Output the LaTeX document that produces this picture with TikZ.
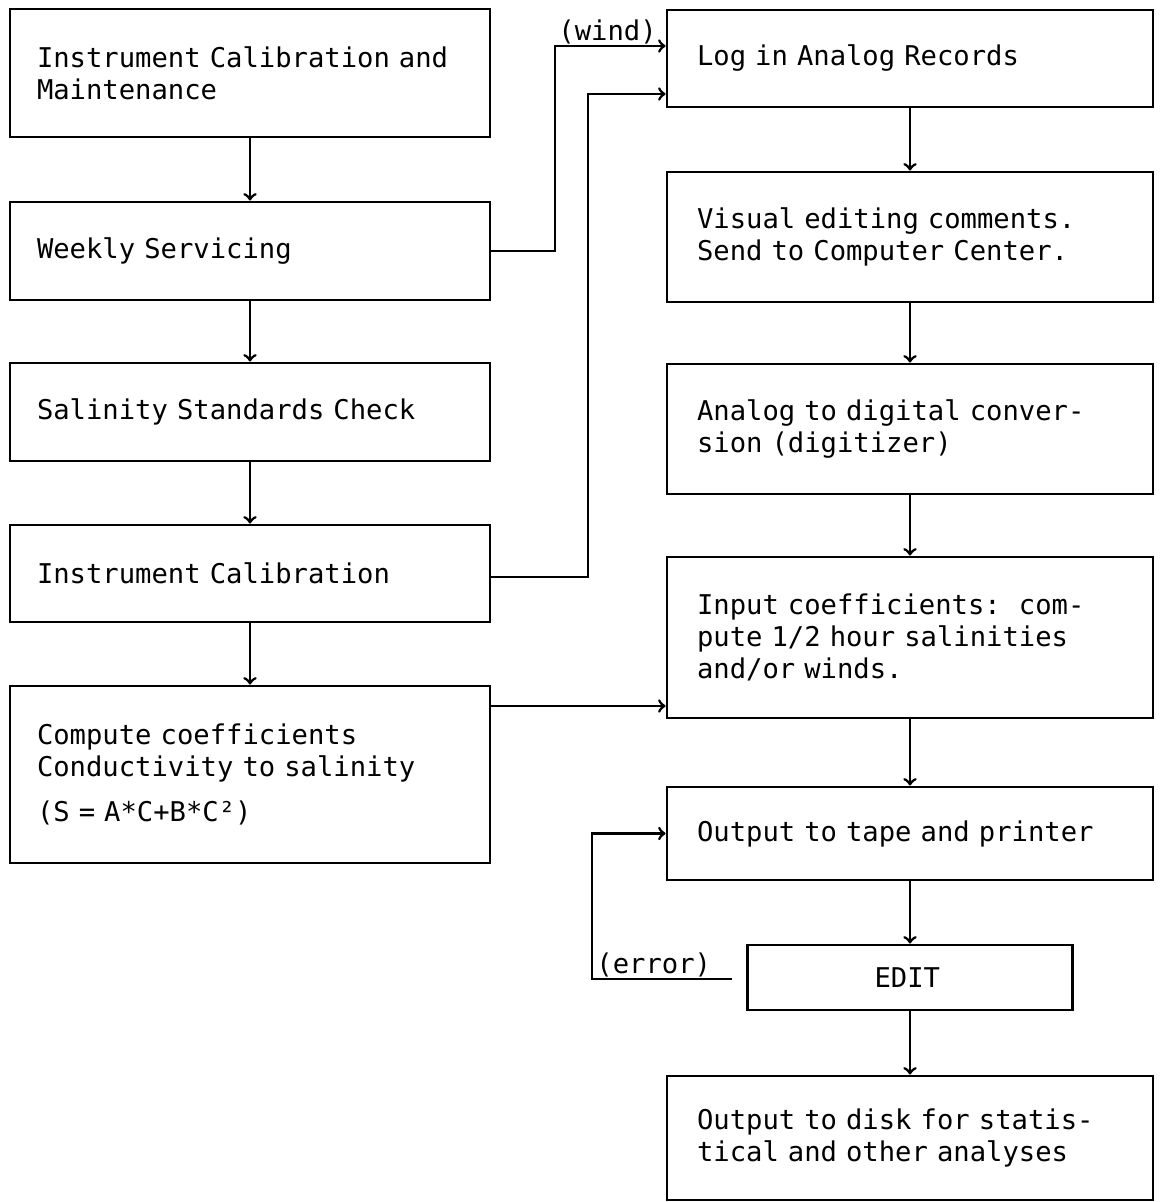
\documentclass[tikz,border=0pt]{standalone}
\usepackage{fontspec}
\usepackage{tikz}
\usetikzlibrary{arrows}
\newfontfamily\typewr{DejaVu Sans Mono}

\tikzset{
  stage/.style={draw,rectangle,inner xsep=15pt,inner ysep=0pt,text width=213pt,
    align=left,font=\typewr\fontsize{13.6}{16}\selectfont\frenchspacing},
  leftstage/.style={stage,inner xsep=13.5pt},
  flowlabel/.style={inner sep=0.5pt,font=\typewr\fontsize{13.6}{16}\selectfont}
}

\begin{document}
\begin{tikzpicture}[->,>=to,line width=1.4pt,x=0.5pt,y=-0.5pt]
  \useasboundingbox (0,0) rectangle (1160,1202);

  % left column
  \node[leftstage,minimum height=64pt]   (calmaint) at (250,73)    {Instrument Calibration and\\Maintenance};
  \node[leftstage,minimum height=49pt]   (weekly)   at (250,251)   {Weekly Servicing};
  \node[leftstage,minimum height=49pt]   (stdcheck) at (250,412)   {Salinity Standards Check};
  \node[leftstage,minimum height=48.5pt] (instcal)  at (250,573.5) {Instrument Calibration};
  \node[leftstage,minimum height=88.5pt] (coeffs)   at (250,774.5) {Compute coefficients\\Conductivity to salinity\\[6.5pt](S = A*C+B*C²)};

  % right column
  \node[stage,minimum height=48.5pt] (logrec) at (910,58.5)  {Log in Analog Records};
  \node[stage,minimum height=65pt]   (visual) at (910,237)   {Visual editing comments.\\Send to Computer Center.};
  \node[stage,minimum height=65pt]   (digit)  at (910,429)   {Analog to digital conver-\\sion (digitizer)};
  \node[stage,minimum height=80.5pt] (salin)  at (910,637.5) {Input coefficients:\ \ com-\\pute 1/2 hour salinities\\and/or winds.};
  \node[stage,minimum height=46.5pt] (tape)   at (910,833.5) {Output to tape and printer};
  \node[stage,text width=35.5pt,inner xsep=63.5pt,minimum height=32.5pt]
                                      (edit)   at (910,977.5) {EDIT};
  \node[stage,minimum height=62pt]   (disk)   at (910,1138)  {Output to disk for statis-\\tical and other analyses};

  \path (calmaint) edge (weekly)
        (weekly)   edge (stdcheck)
        (stdcheck) edge (instcal)
        (instcal)  edge (coeffs)
        (logrec)   edge (visual)
        (visual)   edge (digit)
        (digit)    edge (salin)
        (salin)    edge (tape)
        (tape)     edge (edit)
        (edit)     edge (disk);

  % cross links
  \draw (weekly.east) -| (555,46) -- (logrec.west |- 0,46);
  \node[flowlabel,anchor=south west] (windlbl) at (556,46) {(wind)};
  \draw (instcal.east |- 0,577) -| (588,94) -- (logrec.west |- 0,94);
  \draw (coeffs.east |- 0,706) -- (salin.west |- 0,706);

  \coordinate (errend) at (732,979);
  \draw (errend) -| (592,833.5) -- (tape.west);
  \node[flowlabel,anchor=south west] (errlbl) at (594,979) {(error)};
\end{tikzpicture}
\end{document}
